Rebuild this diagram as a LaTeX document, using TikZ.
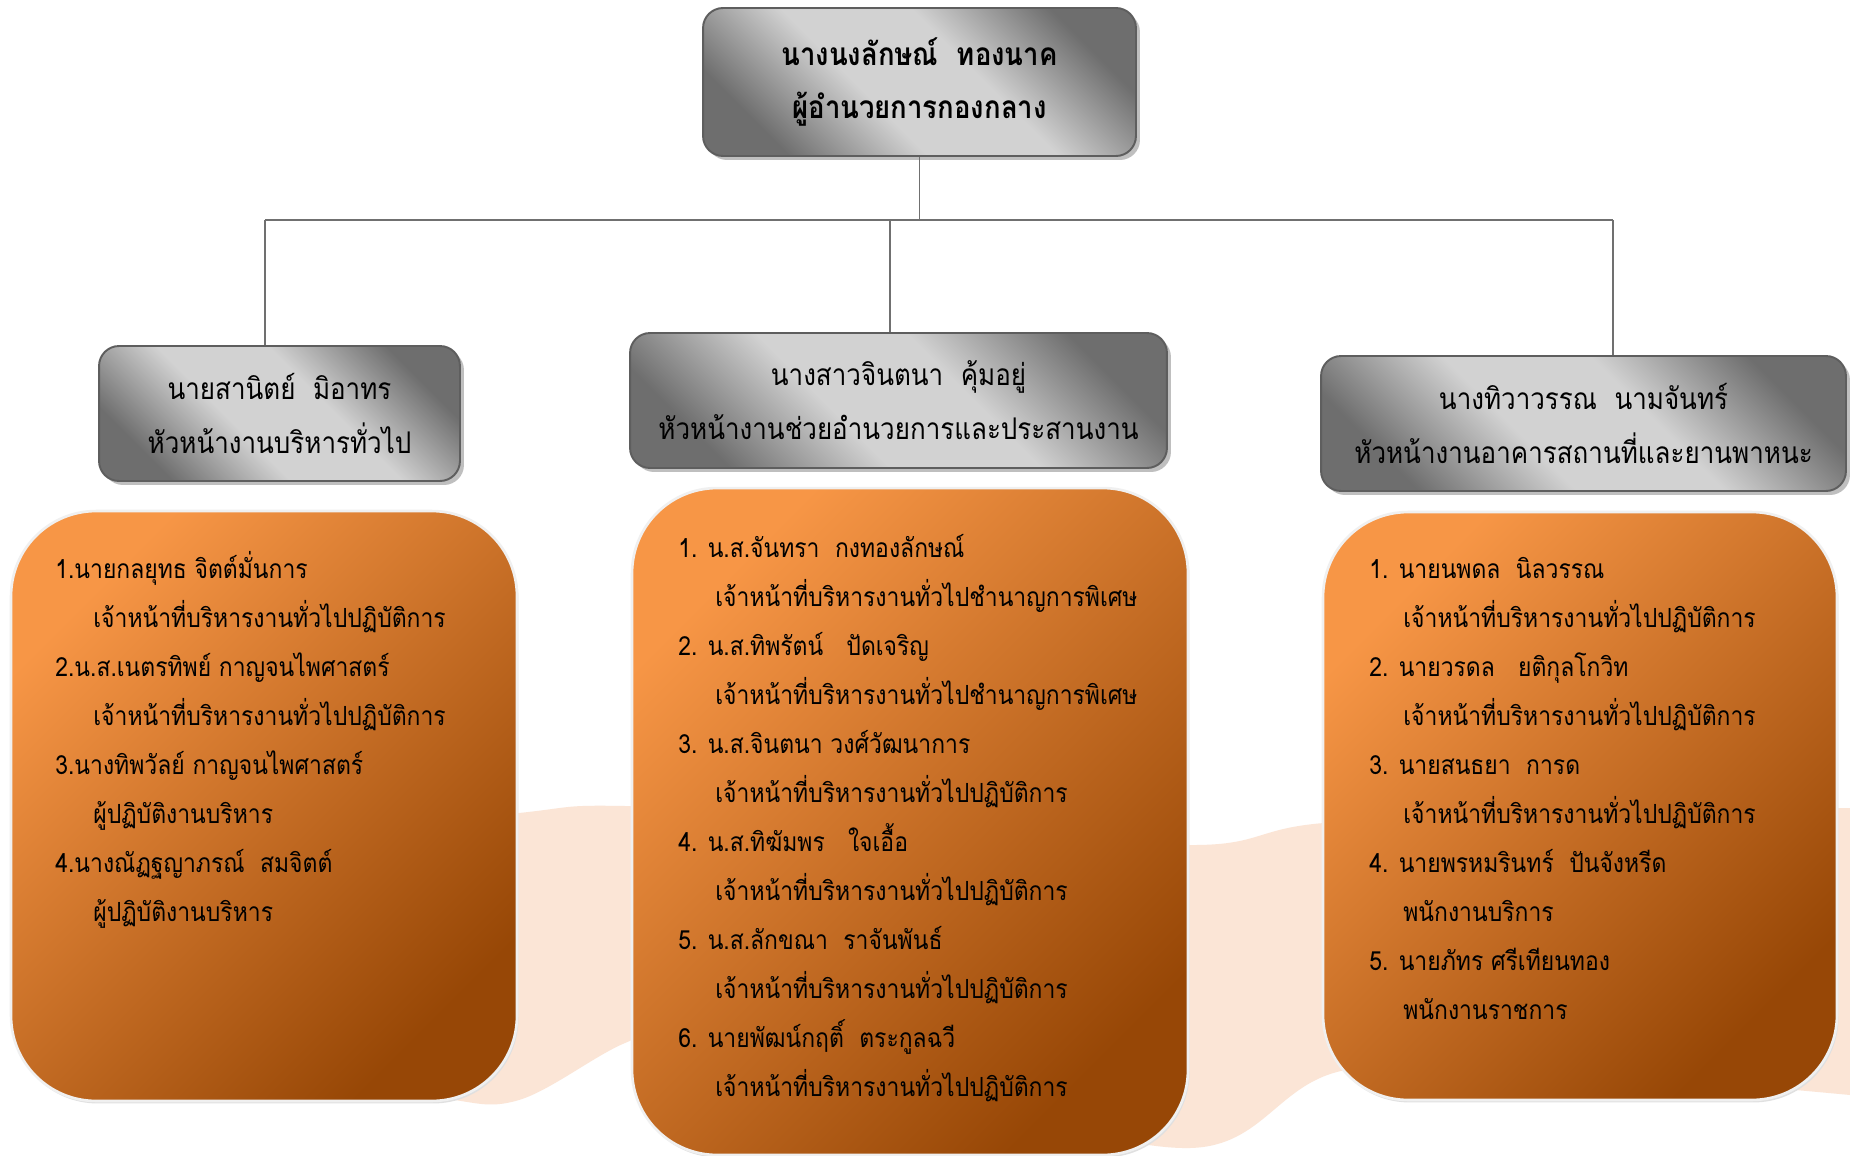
\documentclass[tikz,border=0pt]{standalone}
\usepackage{fontspec}
\newfontfamily\thaifont[Script=Thai,FakeStretch=0.87]{Loma}
\usetikzlibrary{shadows}
\definecolor{grDark}{HTML}{6E6E6E}
\definecolor{grLight}{HTML}{D2D2D2}
\definecolor{grEdge}{HTML}{5E5E5E}
\definecolor{orLight}{HTML}{F79646}
\definecolor{orDark}{HTML}{974706}
\definecolor{peach}{HTML}{FBE5D6}
\definecolor{lineGray}{HTML}{707070}
\pgfdeclareverticalshading{grayband}{100bp}{color(0bp)=(grDark); color(25bp)=(grDark); color(42bp)=(grLight); color(58bp)=(grLight); color(75bp)=(grDark); color(100bp)=(grDark)}

\begin{document}
\begin{tikzpicture}[x=0.02cm,y=-0.02cm]
\tikzstyle{headbox}=[draw=grEdge,line width=1.1pt,rounded corners=0.4cm,shading=grayband,shading angle=-45,drop shadow={shadow xshift=0.08cm,shadow yshift=-0.08cm,fill=black!25,opacity=1},align=center,inner sep=0pt,font=\thaifont\fontsize{17}{30.7}\selectfont]
\tikzstyle{listbox}=[draw=black!6,line width=1.5pt,rounded corners=1.7cm,top color=orLight,bottom color=orDark,shading angle=45,drop shadow={shadow xshift=0.03cm,shadow yshift=-0.05cm,fill=black!12,opacity=1},inner sep=0pt]
\tikzstyle{item}=[anchor=base west,inner sep=0pt,font=\thaifont\fontsize{15}{18}\selectfont]
\tikzstyle{link}=[draw=lineGray,line width=1.1pt]
\useasboundingbox[fill=white] (0,0) rectangle (1850,1156);
% background wave
\fill[peach] plot[smooth,tension=0.6] coordinates {(300,840) (519,813) (625,806) (900,820) (1190,845) (1324,823) (1600,812) (1850,808)}
  -- plot[smooth,tension=0.6] coordinates {(1850,1095) (1600,1075) (1346,1070) (1190,1148) (900,1080) (700,1025) (625,1043) (519,1100) (440,1098) (300,1075)} -- cycle;
% boxes of the staff lists
\node[listbox,minimum width=10.12cm,minimum height=11.8cm] (listGen) at (264,806) {};
\node[listbox,minimum width=11.12cm,minimum height=13.34cm] (listCoord) at (910,821.5) {};
\node[listbox,minimum width=10.28cm,minimum height=11.76cm] (listBldg) at (1580,806) {};
% tree
\coordinate (busGen) at (265,220);
\coordinate (busCoord) at (890,220);
\coordinate (busBldg) at (1613,220);
\draw[link] (busGen) -- (busBldg);
\draw[link] (busGen) -- (busGen |- 0,346);
\draw[link] (busCoord) -- (busCoord |- 0,333);
\draw[link] (busBldg) -- (busBldg |- 0,356);
\node[headbox,minimum width=8.66cm,minimum height=2.96cm,font=\thaifont\bfseries\fontsize{18}{30.7}\selectfont] (director) at (919.5,82) {นางนงลักษณ์\ \ ทองนาค\\ผู้อำนวยการกองกลาง};
\draw[link] (director.south) -- (director.south |- busGen);
\node[headbox,minimum width=7.22cm,minimum height=2.7cm] (headGen) at (279.5,413.5) {นายสานิตย์\ \ มิอาทร\\หัวหน้างานบริหารทั่วไป};
\node[headbox,minimum width=10.74cm,minimum height=2.7cm] (headCoord) at (898.5,400.5) {นางสาวจินตนา\ \ คุ้มอยู่\\หัวหน้างานช่วยอำนวยการและประสานงาน};
\node[headbox,minimum width=10.5cm,minimum height=2.7cm] (headBldg) at (1583.5,423.5) {นางทิวาวรรณ\ \ นามจันทร์\\หัวหน้างานอาคารสถานที่และยานพาหนะ};
% staff
\foreach \nm/\job [count=\i] in {นายกลยุทธ จิตต์มั่นการ/เจ้าหน้าที่บริหารงานทั่วไปปฏิบัติการ,
  น.ส.เนตรทิพย์ กาญจนไพศาสตร์/เจ้าหน้าที่บริหารงานทั่วไปปฏิบัติการ,
  นางทิพวัลย์ กาญจนไพศาสตร์/ผู้ปฏิบัติงานบริหาร,
  นางณัฏฐญาภรณ์\ \ สมจิตต์/ผู้ปฏิบัติงานบริหาร}
{
  \node[item] (gen\i) at (55,{578+98*(\i-1)}) {\i.\nm};
  \node[item] (genJob\i) at (93,{627+98*(\i-1)}) {\job};
}
\foreach \nm/\job [count=\i] in {น.ส.จันทรา\ \ กงทองลักษณ์/เจ้าหน้าที่บริหารงานทั่วไปชำนาญการพิเศษ,
  น.ส.ทิพรัตน์\ \ \ ปัดเจริญ/เจ้าหน้าที่บริหารงานทั่วไปชำนาญการพิเศษ,
  น.ส.จินตนา วงศ์วัฒนาการ/เจ้าหน้าที่บริหารงานทั่วไปปฏิบัติการ,
  น.ส.ทิฆัมพร\ \ \ ใจเอื้อ/เจ้าหน้าที่บริหารงานทั่วไปปฏิบัติการ,
  น.ส.ลักขณา\ \ ราจันพันธ์/เจ้าหน้าที่บริหารงานทั่วไปปฏิบัติการ,
  นายพัฒน์กฤติ์\ \ ตระกูลฉวี/เจ้าหน้าที่บริหารงานทั่วไปปฏิบัติการ}
{
  \node[item] (coord\i) at (678,{557+98*(\i-1)}) {\i. \nm};
  \node[item] (coordJob\i) at (715,{606+98*(\i-1)}) {\job};
}
\foreach \nm/\job [count=\i] in {นายนพดล\ \ นิลวรรณ/เจ้าหน้าที่บริหารงานทั่วไปปฏิบัติการ,
  นายวรดล\ \ \ ยติกุลโกวิท/เจ้าหน้าที่บริหารงานทั่วไปปฏิบัติการ,
  นายสนธยา\ \ การด/เจ้าหน้าที่บริหารงานทั่วไปปฏิบัติการ,
  นายพรหมรินทร์\ \ ปันจังหรีด/พนักงานบริการ,
  นายภัทร ศรีเทียนทอง/พนักงานราชการ}
{
  \node[item] (bldg\i) at (1369,{578+98*(\i-1)}) {\i. \nm};
  \node[item] (bldgJob\i) at (1403,{627+98*(\i-1)}) {\job};
}
\end{tikzpicture}
\end{document}
